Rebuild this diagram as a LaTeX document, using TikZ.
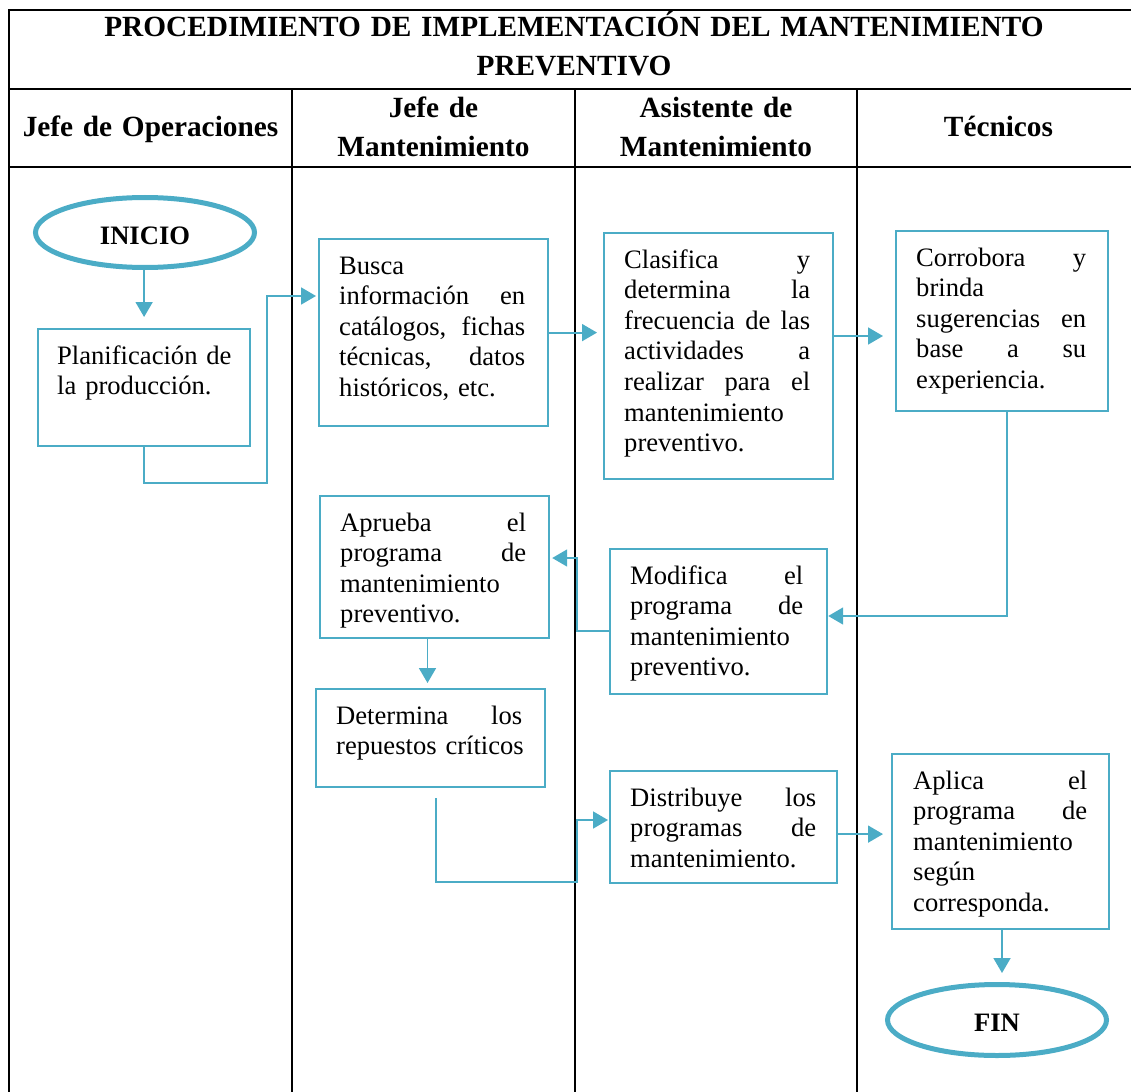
\documentclass[tikz,border=0pt]{standalone}
\usepackage{fontspec}
\setmainfont{Liberation Serif}
\usetikzlibrary{arrows.meta,shapes.geometric,calc}
\definecolor{flow}{HTML}{4BACC6}
\newcommand\JL[2]{\makebox[#1][l]{#2}}
\begin{document}
\begin{tikzpicture}[x=1pt,y=-1pt,
  tline/.style={line width=2.3pt, black},
  box/.style={draw=flow, line width=2.2pt, rectangle, inner sep=0pt, anchor=north west},
  term/.style={draw=flow, line width=5pt, ellipse, inner sep=0pt, text height=23pt, text depth=0pt, font=\fontsize{26.6}{30.6}\selectfont\bfseries},
  txt/.style={inner sep=0pt, anchor=base west, align=left, text width=240pt, font=\fontsize{26.6}{30.6}\selectfont},
  head/.style={inner sep=0pt, anchor=base, align=center, text width=270pt, font=\fontsize{29.3}{39}\selectfont\bfseries},
  arr/.style={draw=flow, line width=1.8pt, -{Triangle[length=15pt,width=17pt]}}]
\useasboundingbox (0,0) rectangle (1131,1091);
\clip (0,0) rectangle (1131,1091);
% table
\draw[tline] (9,1100) -- (9,10) -- (1140,10) -- (1140,1100);
\draw[tline] (9,89) -- (1140,89);
\draw[tline] (9,167) -- (1140,167);
\draw[tline] (292,89) -- (292,1100);
\draw[tline] (575,89) -- (575,1100);
\draw[tline] (857,89) -- (857,1100);
% headers
\node[head, text width=1100pt] (title) at (574,37) {PROCEDIMIENTO DE IMPLEMENTACIÓN DEL MANTENIMIENTO\\PREVENTIVO};
\node[head] (h1) at (150.5,137) {Jefe de Operaciones};
\node[head] (h2) at (433.5,117.5) {Jefe de\\Mantenimiento};
\node[head] (h3) at (716,117.5) {Asistente de\\Mantenimiento};
\node[head] (h4) at (998.5,137) {Técnicos};
% terminals
\node[term, minimum width=219pt, minimum height=70pt] (inicio) at (145,232.5) {INICIO};
\node[term, minimum width=219pt, minimum height=71pt] (fin) at (997,1020) {FIN};
% boxes
\node[box, minimum width=212pt, minimum height=117pt] (plan) at (37,328) {};
\node[box, minimum width=229pt, minimum height=187pt] (busca) at (318,238) {};
\node[box, minimum width=229pt, minimum height=246pt] (clasif) at (603,232) {};
\node[box, minimum width=212pt, minimum height=180pt] (corro) at (895,230) {};
\node[box, minimum width=229pt, minimum height=142pt] (aprueba) at (319,495) {};
\node[box, minimum width=217pt, minimum height=145pt] (modif) at (609,548) {};
\node[box, minimum width=229pt, minimum height=98pt] (determ) at (315,688) {};
\node[box, minimum width=227pt, minimum height=112pt] (distrib) at (609,770) {};
\node[box, minimum width=217pt, minimum height=175pt] (aplica) at (891,753) {};
% texts
\node[txt] (tplan) at (57,364) {Planificación de\\la producción.};
\node[txt] (tbusca) at (339,274) {Busca\\\JL{186pt}{información\hfill en}\\\JL{186pt}{catálogos,\hfill fichas}\\\JL{186pt}{técnicas,\hfill datos}\\históricos, etc.};
\node[txt] (tclasif) at (624,268) {\JL{186pt}{Clasifica\hfill y}\\\JL{186pt}{determina\hfill la}\\\JL{186pt}{frecuencia\hfill de\hfill las}\\\JL{186pt}{actividades\hfill a}\\\JL{186pt}{realizar\hfill para\hfill el}\\mantenimiento\\preventivo.};
\node[txt] (tcorro) at (916,266) {\JL{170pt}{Corrobora\hfill y}\\brinda\\\JL{170pt}{sugerencias\hfill en}\\\JL{170pt}{base\hfill a\hfill su}\\experiencia.};
\node[txt] (taprueba) at (340,531) {\JL{186pt}{Aprueba\hfill el}\\\JL{186pt}{programa\hfill de}\\mantenimiento\\preventivo.};
\node[txt] (tmodif) at (630,584) {\JL{173pt}{Modifica\hfill el}\\\JL{173pt}{programa\hfill de}\\mantenimiento\\preventivo.};
\node[txt] (tdeterm) at (336,724) {\JL{186pt}{Determina\hfill los}\\repuestos críticos};
\node[txt] (tdistrib) at (630,806) {\JL{186pt}{Distribuye\hfill los}\\\JL{186pt}{programas\hfill de}\\mantenimiento.};
\node[txt] (taplica) at (913,789) {\JL{174pt}{Aplica\hfill el}\\\JL{174pt}{programa\hfill de}\\mantenimiento\\según\\corresponda.};
% connectors
\draw[arr, shorten >=11pt] (plan.north |- inicio.south) -- (plan.north);
\coordinate (k1) at (267,483);
\coordinate (k2) at (267,296);
\draw[arr, shorten >=2pt] (plan.south) |- (k1) -- (k2) -- (busca.west |- k2);
\draw[arr, shorten >=6pt] (busca.east) -- (clasif.west |- busca.east);
\coordinate (k3) at ($(clasif.north east)+(0,104)$);
\draw[arr, shorten >=12pt] (k3) -- (corro.west |- k3);
\coordinate (k4) at (1007,616);
\draw[arr] (corro.south -| k4) -- (k4) -- (modif.east |- k4);
\coordinate (k5) at (577,631);
\coordinate (k6) at (577,558);
\draw[arr, shorten >=2pt] (modif.west |- k5) -- (k5) -- (k6) -- (aprueba.east |- k6);
\coordinate (k7) at (427.5,660);
\draw[arr, shorten >=5pt] (aprueba.south -| k7) -- (determ.north -| k7);
\coordinate (k8) at (436,798);
\coordinate (k9) at (436,882);
\coordinate (k10) at (577,882);
\coordinate (k11) at (577,820);
\draw[arr, shorten >=1pt] (k8) -- (k9) -- (k10) -- (k11) -- (distrib.west |- k11);
\coordinate (k12) at ($(distrib.east)+(0,7)$);
\draw[arr, shorten >=8pt] (k12) -- (aplica.west |- k12);
\coordinate (k13) at (1002,950);
\draw[arr, shorten >=9pt] (aplica.south -| k13) -- (fin.north -| k13);
\end{tikzpicture}
\end{document}
